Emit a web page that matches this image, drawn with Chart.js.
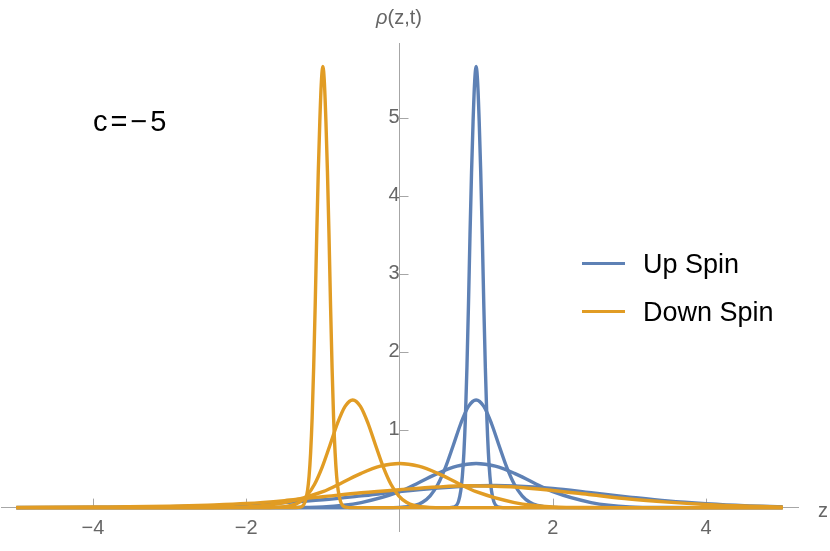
<!DOCTYPE html>
<html>
<head>
<meta charset="utf-8">
<script src="https://cdn.jsdelivr.net/npm/chart.js@4.4.0/dist/chart.umd.min.js"></script>
<style>
  html, body { margin: 0; padding: 0; background: #fff; }
  #wrap { position: relative; width: 830px; height: 551px; font-family: "Liberation Sans", Arial, sans-serif; }
  #chart { position: absolute; left: 0; top: 0; }
  .note { position: absolute; white-space: nowrap; }
  #yTitle { left: 399px; top: 7px; font-size: 20px; line-height: 20px; color: #666; transform: translateX(-50%); }
  #xTitle { left: 818px; top: 500px; font-size: 20px; line-height: 20px; color: #666; }
  #cLabel { left: 93px; top: 107px; font-size: 29px; line-height: 29px; letter-spacing: 3px; color: #000; }
  #legend { position: absolute; left: 582px; top: 240px; }
  #legend .item { position: relative; height: 48px; line-height: 48px; padding-left: 61px; font-size: 27px; color: #000; white-space: nowrap; }
  #legend .swatch { position: absolute; left: 0; top: 22px; width: 43px; height: 3px; }
</style>
</head>
<body>
<div id="wrap">
  <canvas id="chart" width="830" height="551"></canvas>
  <div class="note" id="yTitle"><i>ρ</i>(z,t)</div>
  <div class="note" id="xTitle">z</div>
  <div class="note" id="cLabel">c=−5</div>
  <div id="legend"></div>
</div>
<script>
'use strict';

// values, one pair of arrays per curve
const zUp1 = [-5, 0.65, 0.7, 0.74, 0.77, 0.8, 0.82, 0.84, 0.86, 0.88, 0.9, 0.92, 0.94, 0.96, 0.98, 1, 1.02, 1.04, 1.06, 1.08, 1.1, 1.12, 1.14, 1.16, 1.18, 1.2, 1.23, 1.26, 1.3, 1.35, 5];
const rhoUp1 = [0, 0, 0.005, 0.025, 0.08, 0.22, 0.4, 0.7, 1.15, 1.8, 2.6, 3.5, 4.3, 4.95, 5.45, 5.66, 5.45, 4.95, 4.3, 3.5, 2.6, 1.8, 1.15, 0.7, 0.4, 0.22, 0.08, 0.025, 0.005, 0, 0];

const zUp2 = [-5, -0.2, 0, 0.2, 0.3, 0.4, 0.5, 0.6, 0.7, 0.8, 0.9, 1, 1.1, 1.2, 1.3, 1.4, 1.5, 1.6, 1.7, 1.8, 2, 2.2, 5];
const rhoUp2 = [0, 0, 0.003, 0.027, 0.068, 0.151, 0.296, 0.516, 0.793, 1.079, 1.298, 1.38, 1.298, 1.079, 0.793, 0.516, 0.296, 0.151, 0.068, 0.027, 0.003, 0, 0];

const zUp3 = [-5, -2, -1.5, -1, -0.5, 0, 0.25, 0.5, 0.75, 1, 1.25, 1.5, 1.75, 2, 2.5, 3, 3.5, 4, 5];
const rhoUp3 = [0, 0, 0.001, 0.01, 0.065, 0.204, 0.319, 0.439, 0.531, 0.566, 0.531, 0.439, 0.319, 0.204, 0.065, 0.01, 0.001, 0, 0];

const zUp4 = [-5, -4, -3, -2.5, -2, -1.5, -1, -0.5, 0, 0.5, 1, 1.25, 1.5, 2, 2.5, 3, 3.5, 4, 4.5, 5];
const rhoUp4 = [0.002, 0.005, 0.012, 0.022, 0.038, 0.065, 0.1, 0.15, 0.205, 0.25, 0.28, 0.283, 0.278, 0.245, 0.19, 0.135, 0.085, 0.05, 0.025, 0.012];

const zDown1 = [-5, -1.35, -1.3, -1.26, -1.23, -1.2, -1.18, -1.16, -1.14, -1.12, -1.1, -1.08, -1.06, -1.04, -1.02, -1, -0.98, -0.96, -0.94, -0.92, -0.9, -0.88, -0.86, -0.84, -0.82, -0.8, -0.77, -0.74, -0.7, -0.65, 5];
const rhoDown1 = [0, 0, 0.005, 0.025, 0.08, 0.22, 0.4, 0.7, 1.15, 1.8, 2.6, 3.5, 4.3, 4.95, 5.45, 5.66, 5.45, 4.95, 4.3, 3.5, 2.6, 1.8, 1.15, 0.7, 0.4, 0.22, 0.08, 0.025, 0.005, 0, 0];

const zDown2 = [-5, -1.81, -1.61, -1.41, -1.31, -1.21, -1.11, -1.01, -0.91, -0.81, -0.71, -0.61, -0.51, -0.41, -0.31, -0.21, -0.11, -0.01, 0.09, 0.19, 0.39, 0.59, 5];
const rhoDown2 = [0, 0, 0.003, 0.027, 0.068, 0.151, 0.296, 0.516, 0.793, 1.079, 1.298, 1.38, 1.298, 1.079, 0.793, 0.516, 0.296, 0.151, 0.068, 0.027, 0.003, 0, 0];

const zDown3 = [-5, -3, -2.5, -2, -1.5, -1, -0.75, -0.5, -0.25, 0, 0.25, 0.5, 0.75, 1, 1.5, 2, 2.5, 3, 5];
const rhoDown3 = [0, 0, 0.001, 0.01, 0.065, 0.204, 0.319, 0.439, 0.531, 0.566, 0.531, 0.439, 0.319, 0.204, 0.065, 0.01, 0.001, 0, 0];

const zDown4 = [-5, -4, -3, -2.5, -2, -1.5, -1.25, -1, -0.5, 0, 0.5, 0.9, 1.25, 1.5, 2, 2.5, 3, 3.5, 4, 4.5, 5];
const rhoDown4 = [0.003, 0.008, 0.018, 0.032, 0.052, 0.09, 0.115, 0.14, 0.19, 0.23, 0.265, 0.28, 0.275, 0.265, 0.22, 0.165, 0.11, 0.07, 0.04, 0.02, 0.01];

const seriesNames = ['Up Spin', 'Down Spin'];
const xTickLabels = [-4, -2, 2, 4];
const yTickLabels = [1, 2, 3, 4, 5];

const colors = { up: '#5E81B5', down: '#E19C24' };
const axisColor = '#a6a6a6';
const labelColor = '#666666';

Chart.defaults.font.family = '"Liberation Sans", Arial, sans-serif';

function toPoints(zs, rhos) {
    return zs.map((z, i) => ({ x: z, y: rhos[i] }));
}

function curve(zs, rhos, color, order) {
    return {
        data: toPoints(zs, rhos),
        borderColor: color,
        borderWidth: 3.4,
        pointRadius: 0,
        fill: false,
        cubicInterpolationMode: 'monotone',
        order: order
    };
}

function fmt(v) {
    return v < 0 ? '\u2212' + Math.abs(v) : String(v);
}

function isNear(a, b) {
    return Math.abs(a - b) < 1e-6;
}

// Mathematica style ticks: pointing into the plot from the axes
const axisTicks = {
    id: 'axisTicks',
    beforeDatasetsDraw(chart) {
        const ctx = chart.ctx, xs = chart.scales.x, ys = chart.scales.y;
        const x0 = xs.getPixelForValue(0), y0 = ys.getPixelForValue(0);
        ctx.save();
        ctx.strokeStyle = axisColor;
        ctx.lineWidth = 1;
        ctx.beginPath();
        xs.ticks.forEach(t => {
            if (!isNear(t.value * 2, Math.round(t.value * 2)) || isNear(t.value, 0)) return;
            const len = isNear(t.value / 2, Math.round(t.value / 2)) ? 9 : 5;
            const px = Math.round(xs.getPixelForValue(t.value)) + 0.5;
            ctx.moveTo(px, y0);
            ctx.lineTo(px, y0 - len);
        });
        ys.ticks.forEach(t => {
            if (!isNear(t.value * 5, Math.round(t.value * 5)) || isNear(t.value, 0)) return;
            const len = isNear(t.value, Math.round(t.value)) ? 9 : 5;
            const py = Math.round(ys.getPixelForValue(t.value)) + 0.5;
            ctx.moveTo(x0, py);
            ctx.lineTo(x0 + len, py);
        });
        ctx.stroke();
        ctx.restore();
    }
};

function renderLegend() {
    const items = [
        { name: seriesNames[0], color: colors.up },
        { name: seriesNames[1], color: colors.down }
    ];
    document.getElementById('legend').innerHTML = items.map(it =>
        '<div class="item"><span class="swatch" style="background:' + it.color + '"></span>' + it.name + '</div>'
    ).join('');
}

function drawChart() {
    const ctx = document.getElementById('chart').getContext('2d');

    new Chart(ctx, {
        type: 'line',
        data: {
            datasets: [
                curve(zUp1, rhoUp1, colors.up, 2),
                curve(zUp2, rhoUp2, colors.up, 2),
                curve(zUp3, rhoUp3, colors.up, 2),
                curve(zUp4, rhoUp4, colors.up, 2),
                curve(zDown1, rhoDown1, colors.down, 1),
                curve(zDown2, rhoDown2, colors.down, 1),
                curve(zDown3, rhoDown3, colors.down, 1),
                curve(zDown4, rhoDown4, colors.down, 1)
            ]
        },
        options: {
            responsive: false,
            animation: false,
            devicePixelRatio: 1,
            events: [],
            layout: { padding: { left: 1, right: 32, top: 43, bottom: 16 } },
            plugins: {
                legend: { display: false },
                tooltip: { enabled: false }
            },
            scales: {
                x: {
                    type: 'linear',
                    min: -5.2,
                    max: 5.2,
                    position: { y: 0 },
                    grid: { drawOnChartArea: false, drawTicks: false },
                    border: { display: true, color: axisColor, width: 1 },
                    ticks: {
                        stepSize: 0.5,
                        includeBounds: false,
                        autoSkip: false,
                        maxRotation: 0,
                        padding: 9,
                        color: labelColor,
                        font: { size: 20 },
                        callback: v => xTickLabels.some(t => isNear(t, v)) ? fmt(Math.round(v)) : null
                    }
                },
                y: {
                    type: 'linear',
                    min: -0.3,
                    max: 5.96,
                    position: { x: 0 },
                    grid: { drawOnChartArea: false, drawTicks: false },
                    border: { display: true, color: axisColor, width: 1 },
                    ticks: {
                        stepSize: 0.2,
                        includeBounds: false,
                        autoSkip: false,
                        padding: 8,
                        color: labelColor,
                        font: { size: 20 },
                        callback: v => yTickLabels.some(t => isNear(t, v)) ? String(Math.round(v)) : null
                    }
                }
            }
        },
        plugins: [axisTicks]
    });
}

renderLegend();
drawChart();
</script>
</body>
</html>
